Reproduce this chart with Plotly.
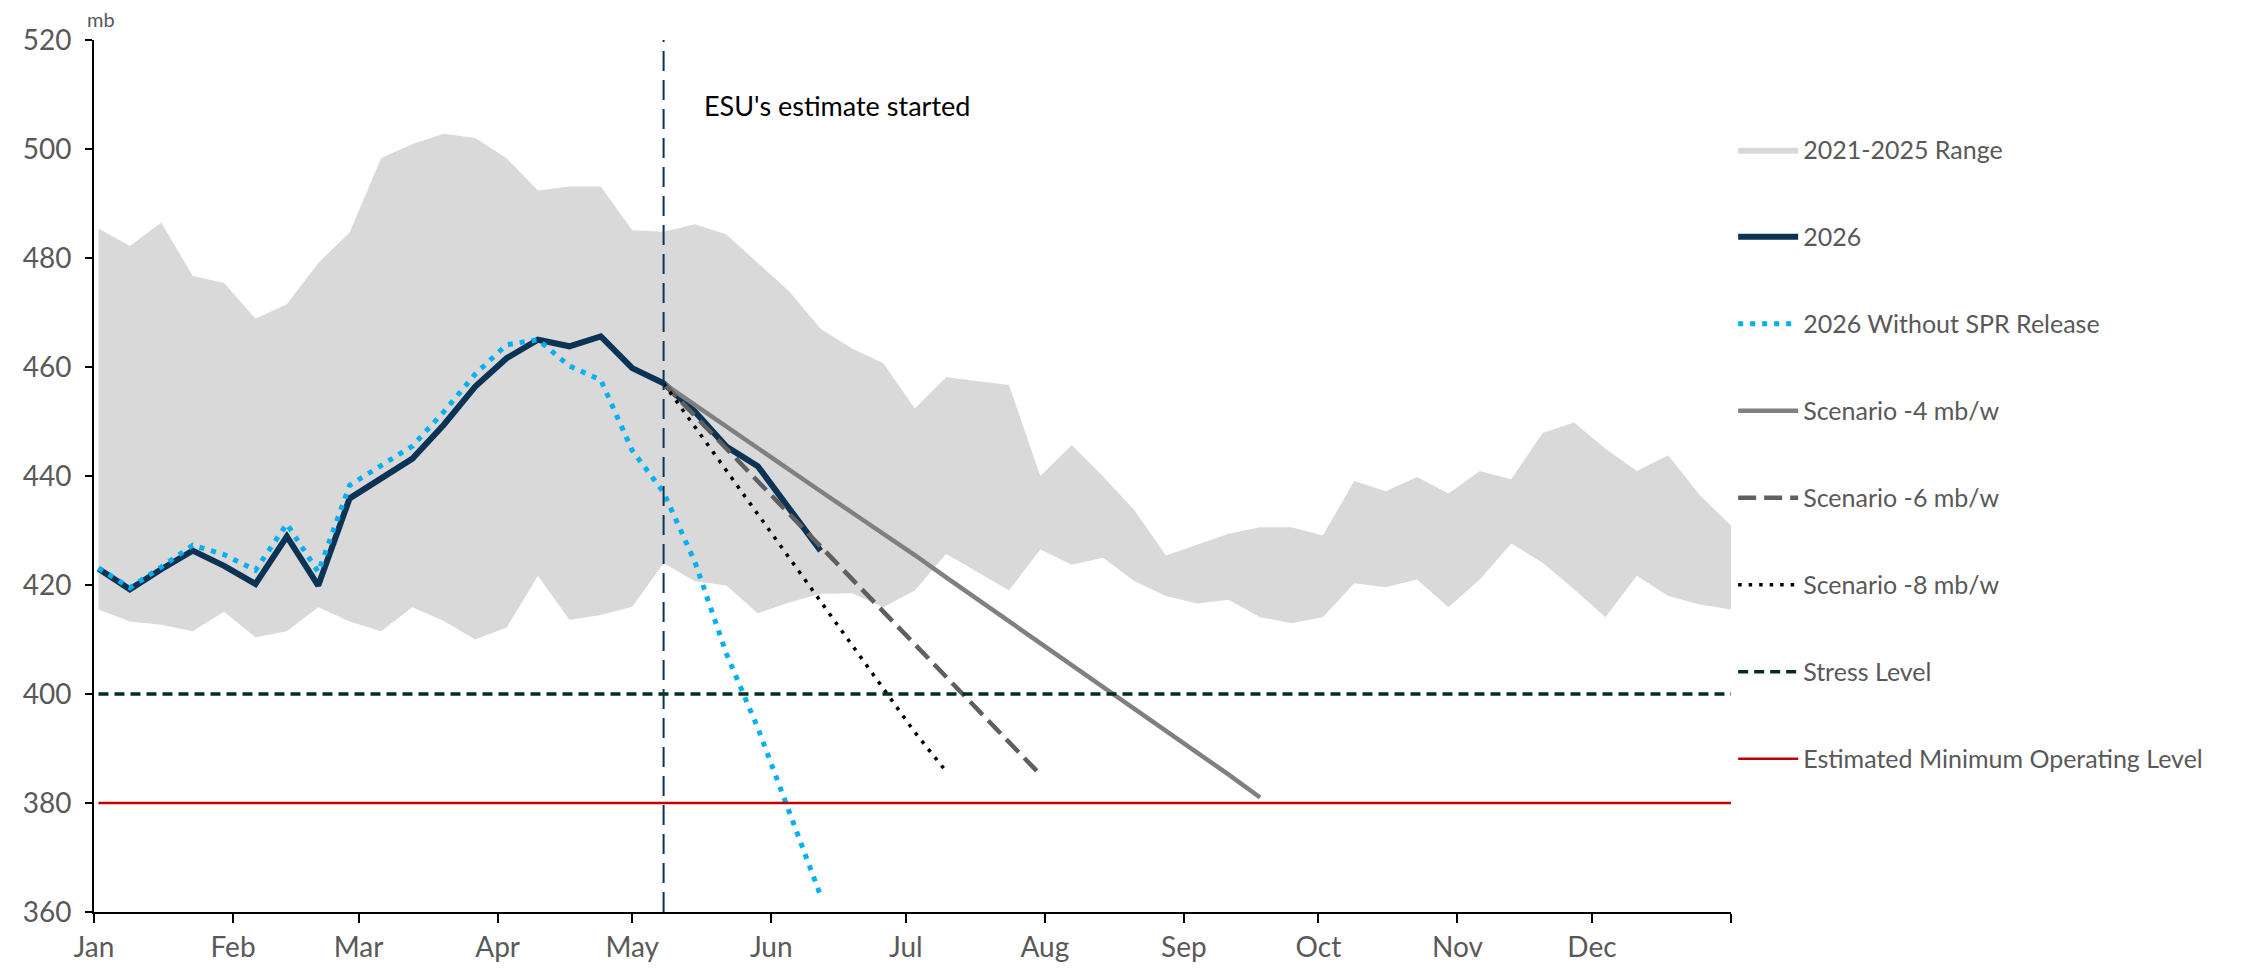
"""
Crude inventories 2026 vs the 2021-2025 range, with drawdown scenarios.
"""
import pandas as pd
import plotly.graph_objects as go

# weekly points (Fridays) for 2026
WEEKS = pd.date_range("2026-01-02", periods=53, freq="7D")

RANGE_HIGH = [485.4, 482.2, 486.5, 476.7, 475.4, 468.9, 471.5, 479.1, 484.7, 498.3,
              500.9, 502.8, 502.0, 498.3, 492.4, 493.1, 493.1, 485.1, 484.8, 486.2,
              484.3, 479.1, 473.9, 467.0, 463.4, 460.7, 452.4, 458.1, 457.4, 456.7,
              440.0, 445.7, 439.9, 433.7, 425.4, 427.4, 429.4, 430.6, 430.6, 429.1,
              439.1, 437.2, 439.8, 436.8, 440.9, 439.4, 447.9, 449.8, 445.0, 440.9,
              443.8, 436.5, 430.9]
RANGE_LOW = [415.5, 413.3, 412.7, 411.5, 415.1, 410.4, 411.5, 415.9, 413.3, 411.5,
             415.9, 413.4, 410.0, 412.2, 421.7, 413.6, 414.5, 416.0, 424.0, 420.7,
             419.9, 414.8, 416.8, 418.4, 418.5, 415.9, 419.0, 425.7, 422.4, 419.0,
             426.5, 423.7, 425.0, 420.7, 418.0, 416.6, 417.3, 414.1, 413.0, 414.1,
             420.3, 419.6, 421.0, 415.9, 421.0, 427.6, 424.1, 419.2, 414.1, 421.7,
             418.0, 416.4, 415.5]

INV_2026 = [423.0, 419.2, 422.9, 426.3, 423.5, 420.2, 428.9, 419.9, 435.9, 439.5,
            443.2, 449.4, 456.4, 461.6, 465.0, 463.8, 465.6, 459.8, 457.0, 451.8,
            445.4, 441.8, 434.0, 426.3]
INV_2026_NO_SPR = [423.1, 419.5, 423.3, 427.3, 425.6, 422.7, 431.2, 422.4, 438.3, 442.0,
                   445.5, 451.8, 458.7, 464.1, 465.0, 460.2, 457.6, 444.7, 437.0, 424.2,
                   407.4, 393.8, 378.4, 363.0]

# scenarios start at the week the estimate started (index 18)
SCEN_START = 18
SCEN_4 = [457.0, 453.0, 449.0, 445.0, 441.2, 437.2, 433.3, 429.5, 425.5, 421.4,
          417.4, 413.4, 409.4, 405.3, 401.3, 397.3, 393.2, 389.2, 385.2, 381.0]
SCEN_6 = [457.0, 451.0, 445.0, 439.0, 433.0, 427.0, 421.0, 415.0, 409.0, 403.0,
          397.0, 391.0, 385.2]
SCEN_8 = [457.0, 449.0, 441.0, 433.0, 425.0, 417.0, 409.0, 401.0, 393.0, 385.8]

STRESS_LEVEL = 400
MIN_OPERATING = 380
ESTIMATE_START = "2026-05-08"

MONTH_TICKS = pd.date_range("2026-01-01", periods=13, freq="MS")
MONTH_LABELS = ["Jan", "Feb", "Mar", "Apr", "May", "Jun",
                "Jul", "Aug", "Sep", "Oct", "Nov", "Dec", ""]
Y_TICKS = [360, 380, 400, 420, 440, 460, 480, 500, 520]

FONT = "Lato"
GREY_TXT = "#595959"

fig = go.Figure()

# 2021-2025 range band
fig.add_trace(go.Scatter(x=WEEKS, y=RANGE_LOW, mode="lines", line=dict(width=0),
                         showlegend=False, hoverinfo="skip", legendgroup="band"))
fig.add_trace(go.Scatter(x=WEEKS, y=RANGE_HIGH, mode="lines", line=dict(width=0),
                         fill="tonexty", fillcolor="#D9D9D9",
                         name="2021-2025 Range", legendgroup="band"))

fig.add_trace(go.Scatter(x=WEEKS[:len(INV_2026)], y=INV_2026, mode="lines",
                         line=dict(color="#0A3356", width=6),
                         name="2026", legendgroup="g1"))
fig.add_trace(go.Scatter(x=WEEKS[:len(INV_2026_NO_SPR)], y=INV_2026_NO_SPR, mode="lines",
                         line=dict(color="#00B0F0", width=5, dash="5px,7px"),
                         name="2026 Without SPR Release", legendgroup="g2"))

fig.add_trace(go.Scatter(x=WEEKS[SCEN_START:SCEN_START + len(SCEN_4)], y=SCEN_4, mode="lines",
                         line=dict(color="#808080", width=4.5),
                         name="Scenario -4 mb/w", legendgroup="g3"))
fig.add_trace(go.Scatter(x=WEEKS[SCEN_START:SCEN_START + len(SCEN_6)], y=SCEN_6, mode="lines",
                         line=dict(color="#5F5F5F", width=4.5, dash="18px,8px"),
                         name="Scenario -6 mb/w", legendgroup="g4"))
fig.add_trace(go.Scatter(x=WEEKS[SCEN_START:SCEN_START + len(SCEN_8)], y=SCEN_8, mode="lines",
                         line=dict(color="#000000", width=3.5, dash="3.5px,7px"),
                         name="Scenario -8 mb/w", legendgroup="g5"))

fig.add_trace(go.Scatter(x=WEEKS, y=[STRESS_LEVEL] * len(WEEKS), mode="lines",
                         line=dict(color="#00301A", width=3.5, dash="10px,6px"),
                         name="Stress Level", legendgroup="g6"))
fig.add_trace(go.Scatter(x=WEEKS, y=[MIN_OPERATING] * len(WEEKS), mode="lines",
                         line=dict(color="#C00000", width=2.5),
                         name="Estimated Minimum Operating Level", legendgroup="g7"))

# start of the estimate
fig.add_vline(x=ESTIMATE_START, line=dict(color="#0A3356", width=2, dash="20px,9px"))
fig.add_annotation(x=ESTIMATE_START, y=508, xref="x", yref="y", xanchor="left",
                   yanchor="middle", xshift=38, showarrow=False,
                   text="ESU's estimate started",
                   font=dict(family=FONT, size=27, color="#000000"))
fig.add_annotation(x=0, y=1.024, xref="paper", yref="paper", xanchor="left",
                   yanchor="middle", xshift=-9, showarrow=False, text="mb",
                   font=dict(family=FONT, size=20, color=GREY_TXT))

# page body keeps an 8px margin, so the figure is 16px smaller than the window
fig.update_layout(
    width=2226, height=954,
    margin=dict(l=86, r=503, t=32, b=50, autoexpand=False),
    paper_bgcolor="white", plot_bgcolor="white",
    font=dict(family=FONT, size=28, color=GREY_TXT),
    showlegend=True,
    legend=dict(xref="container", yref="container", x=0.775, y=0.8753,
                xanchor="left", yanchor="top", traceorder="grouped",
                tracegroupgap=51.5, itemwidth=60, maxheight=940,
                font=dict(family=FONT, size=25, color=GREY_TXT),
                bgcolor="rgba(0,0,0,0)"),
    xaxis=dict(range=["2026-01-01", "2027-01-01"], tickvals=MONTH_TICKS,
               ticktext=MONTH_LABELS, showgrid=False, zeroline=False,
               showline=True, linecolor="black", linewidth=2, automargin=False,
               ticks="outside", ticklen=9, tickwidth=2, tickcolor="black",
               ticklabelstandoff=0,
               tickfont=dict(family=FONT, size=28, color=GREY_TXT)),
    yaxis=dict(range=[360, 520], tickvals=Y_TICKS, showgrid=False, zeroline=False,
               showline=True, linecolor="black", linewidth=2, automargin=False,
               ticks="outside", ticklen=7, tickwidth=2, tickcolor="black",
               ticklabelstandoff=8,
               tickfont=dict(family=FONT, size=28, color=GREY_TXT)),
)

fig.write_html("out.html")
